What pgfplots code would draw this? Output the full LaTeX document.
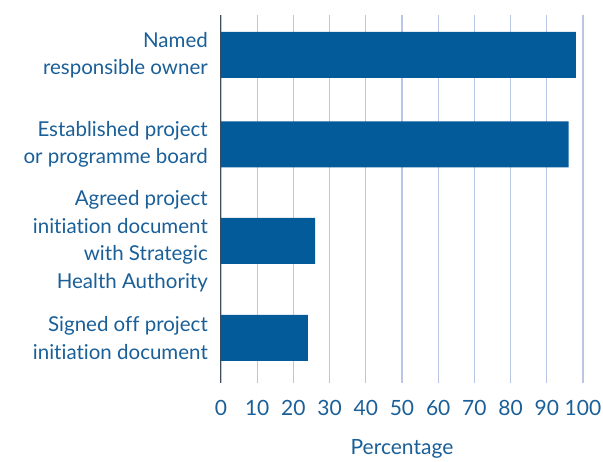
\documentclass[border=0pt]{standalone}
\usepackage{pgfplots}
\pgfplotsset{compat=1.18}
\usepackage{fontspec}
\setmainfont{Lato}[Ligatures={NoCommon,NoDiscretionary,NoContextual}]
\definecolor{barblue}{HTML}{045B9A}
\definecolor{txtblue}{HTML}{1A5F98}
\definecolor{gridc}{HTML}{B9C7E4}
\definecolor{axc}{HTML}{3C4B5E}
\begin{document}
\begin{tikzpicture}
\path (-221pt,-76pt) rectangle (382pt,383pt);
\begin{axis}[
  at={(0,0)}, anchor=south west,
  scale only axis, width=362pt, height=368pt,
  xbar, bar width=46,
  xmin=0, xmax=100, ymin=0, ymax=368,
  xtick={0,10,...,100},
  ytick={45,142,238.5,328},
  yticklabels={{Signed off project\\initiation document},
               {Agreed project\\initiation document\\with Strategic\\Health Authority},
               {Established project\\or programme board},
               {Named\\responsible owner}},
  yticklabel style={align=right, font=\fontsize{20.5}{27.5}\selectfont, text=txtblue, inner sep=0pt, xshift=-13pt},
  xticklabel style={font=\fontsize{21}{22}\selectfont, text=txtblue, inner sep=0pt, yshift=-17pt},
  /pgf/number format/assume math mode=true,
  major tick length=0pt,
  xmajorgrids, major grid style={gridc, line width=1.2pt},
  axis y line*=left, axis x line*=bottom,
  x axis line style={draw=none},
  y axis line style={draw=axc, line width=1pt},
  xlabel={Percentage},
  xlabel style={font=\fontsize{21}{22}\selectfont, text=txtblue, yshift=-20pt},
]
\addplot[fill=barblue, draw=none] coordinates {(24,45) (26,142) (96,238.5) (98,328)};
\end{axis}
\end{tikzpicture}
\end{document}
